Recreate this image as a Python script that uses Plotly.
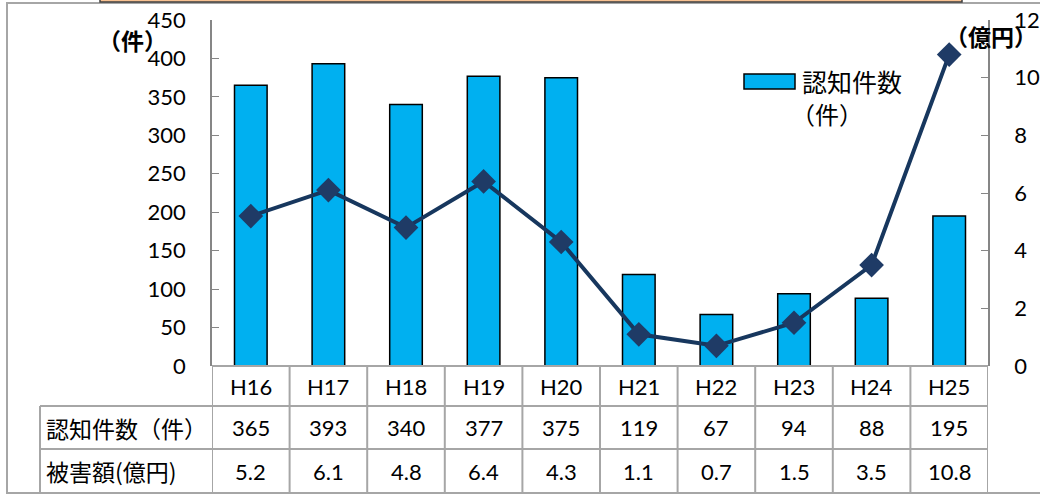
import plotly.graph_objects as go

categories = ["H16", "H17", "H18", "H19", "H20", "H21", "H22", "H23", "H24", "H25"]
cases = [365, 393, 340, 377, 375, 119, 67, 94, 88, 195]
damage = [5.2, 6.1, 4.8, 6.4, 4.3, 1.1, 0.7, 1.5, 3.5, 10.8]
row_labels = ["認知件数（件）", "被害額(億円)"]
left_title = "（件）"
right_title = "（億円）"
legend_line1 = "認知件数"
legend_line2 = "（件）"

W, H = 1040, 495
FONT = "Lato, 'Noto Sans CJK JP', sans-serif"
JFONT = "'Noto Sans CJK JP', sans-serif"
GRID = "#A6A6A6"


def px(x):
    return x / W


def py(y):
    return 1 - y / H


x0p, x1p = 212, 988
y0p, y1p = 20, 366

fig = go.Figure()
fig.add_trace(go.Bar(
    x=categories, y=cases, name="認知件数（件）",
    marker=dict(color="#00B0F0", line=dict(color="#000000", width=1.5)),
    width=0.42, showlegend=False,
))
fig.add_trace(go.Scatter(
    x=categories, y=damage, yaxis="y2", mode="lines+markers",
    line=dict(color="#17375E", width=4),
    marker=dict(symbol="diamond", size=19, color="#1F3B66"),
    showlegend=False,
))

shapes = []
annotations = []

# outer frame
shapes.append(dict(type="rect", xref="paper", yref="paper",
                   x0=px(7), x1=px(1060), y0=py(493), y1=py(3),
                   line=dict(color=GRID, width=2), layer="below"))
# cut-off title box at top
shapes.append(dict(type="rect", xref="paper", yref="paper",
                   x0=px(100), x1=px(962), y0=py(2), y1=py(-30),
                   line=dict(color="#404040", width=1.5), fillcolor="#F8C191"))

rows_y = [366, 406, 449, 493]
n = len(categories)
shapes.append(dict(type="line", xref="paper", yref="paper",
                   x0=px(x0p), x1=px(x1p), y0=py(366), y1=py(366),
                   line=dict(color=GRID, width=2)))
for yy in [406, 449]:
    shapes.append(dict(type="line", xref="paper", yref="paper",
                       x0=px(40), x1=px(x1p), y0=py(yy), y1=py(yy),
                       line=dict(color=GRID, width=2)))
for j in range(n + 1):
    shapes.append(dict(type="line", xref="x", yref="paper",
                       x0=j - 0.5, x1=j - 0.5, y0=py(366), y1=py(493),
                       line=dict(color=GRID, width=2)))
shapes.append(dict(type="line", xref="paper", yref="paper",
                   x0=px(40), x1=px(40), y0=py(406), y1=py(493),
                   line=dict(color=GRID, width=2)))

tfont = dict(family=FONT, size=22, color="#000000")
for j, c in enumerate(categories):
    annotations.append(dict(x=c, y=py((366 + 406) / 2), xref="x", yref="paper",
                            text=c, showarrow=False, font=tfont,
                            xanchor="center", yanchor="middle"))
    annotations.append(dict(x=c, y=py((406 + 449) / 2), xref="x", yref="paper",
                            text=str(cases[j]), showarrow=False, font=tfont,
                            xanchor="center", yanchor="middle"))
    annotations.append(dict(x=c, y=py((449 + 493) / 2), xref="x", yref="paper",
                            text=str(damage[j]), showarrow=False, font=tfont,
                            xanchor="center", yanchor="middle"))
for i, lab in enumerate(row_labels):
    yc = (rows_y[i + 1] + rows_y[i + 2]) / 2
    annotations.append(dict(x=px(44), y=py(yc), xref="paper", yref="paper",
                            text=lab, showarrow=False, xanchor="left", yanchor="middle",
                            font=dict(family=JFONT, size=23, color="#000000")))

annotations.append(dict(x=px(132), y=py(40), xref="paper", yref="paper",
                        text="<b>" + left_title + "</b>", showarrow=False,
                        xanchor="center", yanchor="middle",
                        font=dict(family=JFONT, size=23, color="#000000")))
annotations.append(dict(x=px(991), y=py(36), xref="paper", yref="paper",
                        text="<b>" + right_title + "</b>", showarrow=False,
                        xanchor="center", yanchor="middle",
                        font=dict(family=JFONT, size=23, color="#000000")))

# manual legend
shapes.append(dict(type="rect", xref="paper", yref="paper",
                   x0=px(744), x1=px(795), y0=py(89), y1=py(74),
                   fillcolor="#00B0F0", line=dict(color="#000000", width=1.5)))
annotations.append(dict(x=px(800), y=py(81), xref="paper", yref="paper",
                        text=legend_line1, showarrow=False, xanchor="left",
                        yanchor="middle",
                        font=dict(family=JFONT, size=25, color="#000000")))
annotations.append(dict(x=px(789), y=py(113), xref="paper", yref="paper",
                        text=legend_line2, showarrow=False, xanchor="left",
                        yanchor="middle",
                        font=dict(family=JFONT, size=24, color="#000000")))

axis_font = dict(family=FONT, size=22, color="#000000")
fig.update_layout(
    width=W, height=H,
    margin=dict(l=0, r=0, t=0, b=0, pad=0, autoexpand=False),
    paper_bgcolor="#FFFFFF", plot_bgcolor="#FFFFFF",
    xaxis=dict(domain=[px(x0p), px(x1p)], range=[-0.5, n - 0.5],
               showticklabels=False, showgrid=False, zeroline=False,
               showline=False, ticks="", automargin=False),
    yaxis=dict(domain=[py(y1p), py(y0p)], range=[0, 450], dtick=50,
               showgrid=False, zeroline=False, showline=True,
               linecolor="#868686", linewidth=1.5, ticks="inside",
               ticklen=7, tickcolor="#868686", tickfont=axis_font,
               ticklabelstandoff=20, automargin=False),
    yaxis2=dict(overlaying="y", side="right", range=[0, 12], dtick=2,
                showgrid=False, zeroline=False, showline=True,
                linecolor="#868686", linewidth=1.5, ticks="inside",
                ticklen=7, tickcolor="#868686", tickfont=axis_font,
                ticklabelstandoff=20, automargin=False),
    shapes=shapes,
    annotations=annotations,
    showlegend=False,
)

fig.write_html("out.html")
